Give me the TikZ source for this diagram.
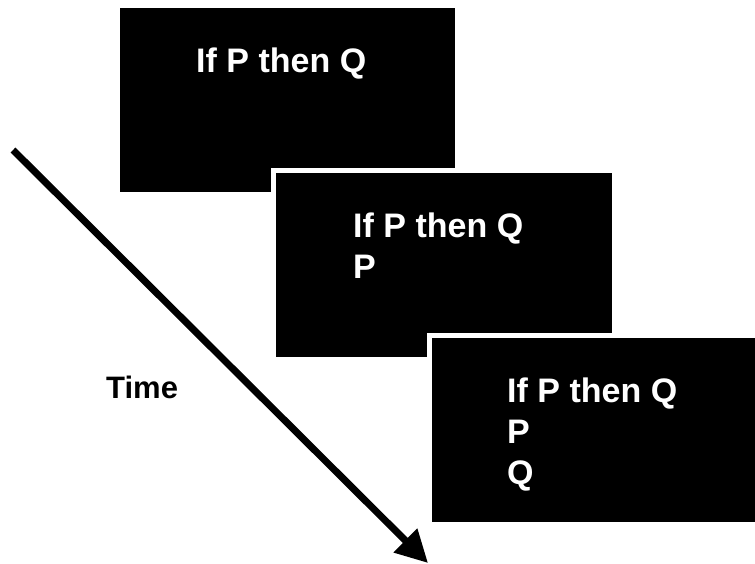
\documentclass[tikz,border=0pt]{standalone}
\usepackage{fontspec}
\setmainfont{Liberation Sans}
\usetikzlibrary{arrows.meta}

\tikzset{
	slide/.style={fill=black},
	gap/.style={fill=white},
	slidetext/.style={anchor=base west, inner sep=0pt, text=white, font=\fontsize{34}{41}\selectfont\bfseries},
	timetext/.style={anchor=base west, inner sep=0pt, font=\fontsize{31}{37}\selectfont\bfseries}
}

\begin{document}
\begin{tikzpicture}[x=1pt, y=-1pt]
		%%%%% START %%%%%
		\useasboundingbox (0, 0) rectangle (755, 563);
		
		% first slide
		\fill[slide] (120, 8) rectangle (455, 192);
		\node[slidetext] (rule1) at (196, 72) {If P then Q};
		
		% second slide
		\fill[gap] (271, 168) rectangle (617, 362);
		\fill[slide] (276, 173) rectangle (612, 357);
		\node[slidetext] (rule2) at (353, 237) {If P then Q};
		\node[slidetext] (fact2) at (353, 278) {P};
		
		% third slide
		\fill[gap] (427, 333) rectangle (760, 527);
		\fill[slide] (432, 338) rectangle (760, 522);
		\node[slidetext] (rule3) at (507, 402) {If P then Q};
		\node[slidetext] (fact3) at (507, 443) {P};
		\node[slidetext] (concl3) at (507, 484) {Q};
		
		% time arrow
		\coordinate (tstart) at (13, 150);
		\coordinate (tend) at (428, 563);
		\draw[line width=7pt, -{Triangle[length=32pt, width=32pt]}] (tstart) -- (tend);
		\node[timetext] (time) at (106, 398) {Time};
		
		%%%%% END %%%%%
	\end{tikzpicture}
\end{document}
